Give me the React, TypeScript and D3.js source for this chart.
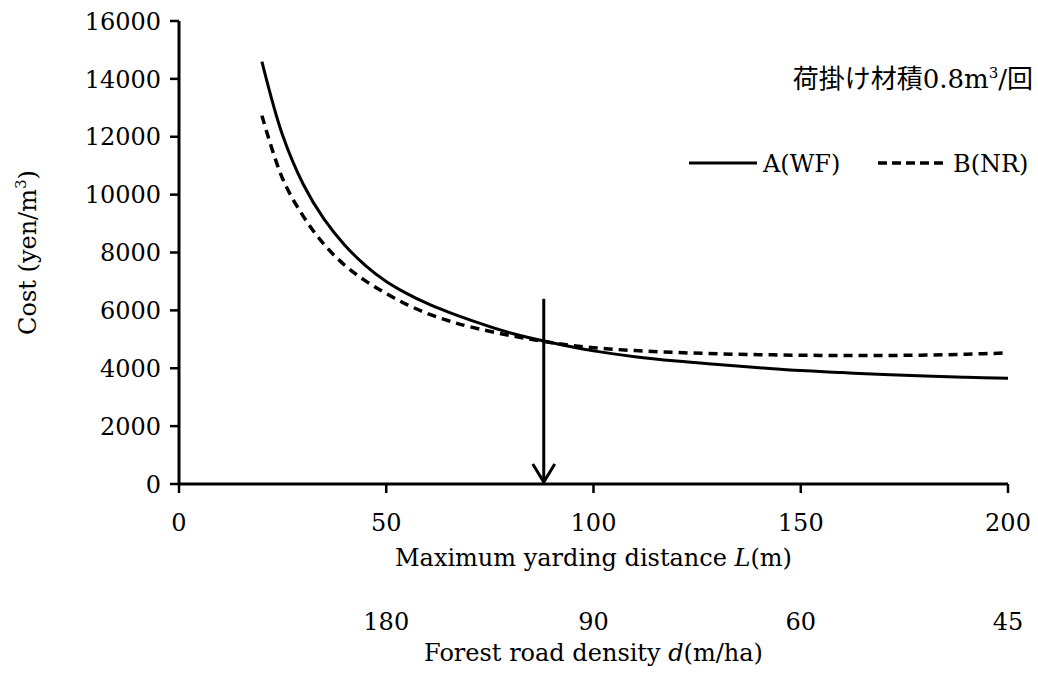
import React from "react";
import * as d3 from "d3";

// yarding distance L (m) at which the curves were read
const distances = [20, 25, 30, 35, 40, 45, 50, 55, 60, 65, 70, 80, 90, 100, 110, 120, 130, 140, 150, 160, 170, 180, 190, 200];
// cost (yen/m3), A(WF) solid
const costA = [14600, 12050, 10350, 9150, 8250, 7550, 7000, 6580, 6230, 5940, 5680, 5220, 4880, 4600, 4400, 4250, 4130, 4020, 3920, 3850, 3780, 3730, 3690, 3655];
// cost (yen/m3), B(NR) dashed
const costB = [12730, 10550, 9250, 8280, 7560, 7020, 6580, 6200, 5890, 5640, 5440, 5130, 4880, 4710, 4610, 4545, 4500, 4470, 4450, 4440, 4440, 4455, 4485, 4530];

const xTicks = [0, 50, 100, 150, 200];
const yTicks = [0, 2000, 4000, 6000, 8000, 10000, 12000, 14000, 16000];
// forest road density labels sit under these L positions
const densityAt = [50, 100, 150, 200];
const densityLabels = ["180", "90", "60", "45"];

const breakEven = { L: 88, top: 6400 };

const font = "'DejaVu Serif', 'Noto Sans CJK JP', serif";

export default function App() {
  const W = 1038;
  const H = 675;
  const m = { left: 179, right: 30, top: 21, bottom: 191 };

  const x = d3.scaleLinear().domain([0, 200]).range([m.left, W - m.right]);
  const y = d3.scaleLinear().domain([0, 16000]).range([H - m.bottom, m.top]);

  const line = d3
    .line<number>()
    .x((_, i) => x(distances[i]))
    .y((d) => y(d))
    .curve(d3.curveCatmullRom);

  const x0 = x(0);
  const y0 = y(0);
  const ax = x(breakEven.L);
  const fs = 24;

  return (
    <div style={{ position: "absolute", left: 0, top: 0 }}>
      <svg width={W} height={H} style={{ display: "block", background: "#fff" }} fontFamily={font}>
        {/* axes */}
        <line x1={x0} x2={x(200)} y1={y0} y2={y0} stroke="#000" strokeWidth={3} />
        <line x1={x0} x2={x0} y1={y(16000)} y2={y0 + 1} stroke="#000" strokeWidth={3} />
        {yTicks.map((t) => (
          <g key={"y" + t}>
            <line x1={x0 - 9} x2={x0} y1={y(t)} y2={y(t)} stroke="#000" strokeWidth={2.5} />
            <text x={x0 - 18} y={y(t)} dy="0.36em" textAnchor="end" fontSize={fs}>
              {t}
            </text>
          </g>
        ))}
        {xTicks.map((t) => (
          <g key={"x" + t}>
            <line x1={x(t)} x2={x(t)} y1={y0} y2={y0 + 9} stroke="#000" strokeWidth={2.5} />
            <text x={x(t)} y={y0 + 47} textAnchor="middle" fontSize={fs}>
              {t}
            </text>
          </g>
        ))}
        <text x={(x(0) + x(200)) / 2} y={y0 + 82} textAnchor="middle" fontSize={fs}>
          Maximum yarding distance <tspan fontStyle="italic">L</tspan>(m)
        </text>
        {densityAt.map((d, i) => (
          <text key={"d" + d} x={x(d)} y={y0 + 146} textAnchor="middle" fontSize={fs}>
            {densityLabels[i]}
          </text>
        ))}
        <text x={(x(0) + x(200)) / 2} y={y0 + 177} textAnchor="middle" fontSize={fs}>
          Forest road density <tspan fontStyle="italic">d</tspan>(m/ha)
        </text>
        <text transform={`translate(36,${(y(0) + y(16000)) / 2}) rotate(-90)`} textAnchor="middle" fontSize={fs}>
          Cost (yen/m<tspan dy={-10} fontSize={15}>3</tspan>
          <tspan dy={10}>)</tspan>
        </text>

        {/* curves */}
        <path d={line(costA) ?? ""} fill="none" stroke="#000" strokeWidth={3} />
        <path d={line(costB) ?? ""} fill="none" stroke="#000" strokeWidth={3.5} strokeDasharray="9,6" />

        {/* break-even arrow */}
        <line x1={ax} x2={ax} y1={y(breakEven.top)} y2={y0 - 2} stroke="#000" strokeWidth={3} />
        <path
          d={`M${ax - 11},${y0 - 20} L${ax},${y0 - 2} L${ax + 11},${y0 - 20}`}
          fill="none"
          stroke="#000"
          strokeWidth={3}
        />

        {/* legend */}
        <line x1={689} x2={757} y1={163} y2={163} stroke="#000" strokeWidth={3} />
        <text x={763} y={163} dy="0.36em" fontSize={fs}>
          A(WF)
        </text>
        <line x1={878} x2={947} y1={163} y2={163} stroke="#000" strokeWidth={3.5} strokeDasharray="9,5" />
        <text x={953} y={163} dy="0.36em" fontSize={fs}>
          B(NR)
        </text>

        <text x={1033} y={88} textAnchor="end" fontSize={26}>
          荷掛け材積0.8m<tspan dy={-10} fontSize={15}>3</tspan>
          <tspan dy={10}>/回</tspan>
        </text>
      </svg>
    </div>
  );
}
